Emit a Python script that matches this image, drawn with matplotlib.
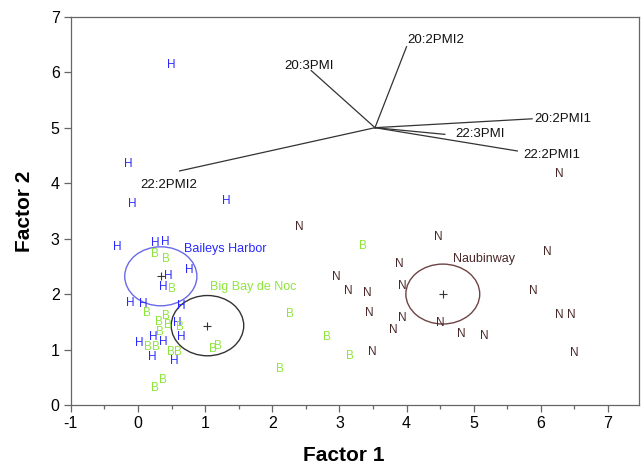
import matplotlib.pyplot as plt
from matplotlib.patches import Ellipse
from matplotlib.ticker import MultipleLocator

plt.rcParams['font.family'] = ['Liberation Sans', 'DejaVu Sans']
plt.rcParams['axes.unicode_minus'] = False

# site scores (letter = site)
h_x = [-0.14, 0.50, -0.09, 1.31, -0.31, 0.25, 0.40, 0.77, 0.45, 0.38, -0.12, 0.085,
       0.64, 0.58, 0.23, 0.37, 0.65, 0.025, 0.21, 0.545]
h_y = [4.34, 6.13, 3.62, 3.68, 2.84, 2.92, 2.93, 2.43, 2.33, 2.13, 1.83, 1.82,
       1.79, 1.48, 1.22, 1.14, 1.23, 1.11, 0.87, 0.80]
b_x = [0.25, 0.42, 0.51, 0.13, 0.41, 0.31, 0.45, 0.62, 0.33, 0.15, 0.27, 0.49, 0.60,
       1.11, 1.19, 0.26, 0.37, 3.35, 2.27, 2.81, 3.16, 2.12]
b_y = [2.73, 2.64, 2.10, 1.66, 1.61, 1.50, 1.44, 1.41, 1.31, 1.05, 1.05, 0.96, 0.96,
       1.00, 1.06, 0.31, 0.45, 2.87, 1.64, 1.23, 0.89, 0.65]
n_x = [2.40, 2.96, 3.135, 3.42, 3.45, 3.80, 3.49, 4.47, 3.89, 3.93, 3.93, 4.51,
       4.82, 5.16, 6.09, 5.89, 6.27, 6.45, 6.50, 6.27]
n_y = [3.21, 2.31, 2.06, 2.02, 1.66, 1.36, 0.95, 3.02, 2.54, 2.15, 1.56, 1.47,
       1.28, 1.24, 2.75, 2.06, 1.62, 1.62, 0.93, 4.16]

# group centroids and ellipse sizes
grp_names = ['Baileys Harbor', 'Big Bay de Noc', 'Naubinway']
grp_cx = [0.34, 1.035, 4.54]
grp_cy = [2.32, 1.43, 2.00]
grp_w = [1.075, 1.08, 1.10]
grp_h = [1.064, 1.087, 1.08]
grp_lx = [0.69, 1.08, 4.69]
grp_ly = [2.81, 2.13, 2.63]

# variable vectors
origin = (3.53, 5.0)
vec_names = ['20:3PMI', '20:2PMI2', '20:2PMI1', '22:3PMI', '22:2PMI1', '22:2PMI2']
vec_x = [2.58, 4.00, 5.87, 4.57, 5.65, 0.62]
vec_y = [6.03, 6.46, 5.16, 4.88, 4.58, 4.22]
lab_x = [2.18, 4.01, 5.91, 4.72, 5.74, 0.035]
lab_y = [6.11, 6.58, 5.16, 4.89, 4.51, 3.97]

c_h = '#2a2aff'
c_b = '#8ee63c'
c_n = '#4a2828'
ell_col = ['#6a6ae8', '#333333', '#6e4444']
lab_col = [c_h, c_b, c_n]

fig = plt.figure(figsize=(6.44, 4.66), dpi=100)
ax = fig.add_axes([0.110, 0.131, 0.882, 0.833])

for xs, ys, letter, col in [(h_x, h_y, 'H', c_h), (b_x, b_y, 'B', c_b), (n_x, n_y, 'N', c_n)]:
    for x, y in zip(xs, ys):
        ax.text(x, y, letter, color=col, fontsize=8.5, ha='center', va='center')

for i in range(3):
    ax.add_patch(Ellipse((grp_cx[i], grp_cy[i]), grp_w[i], grp_h[i], fill=False,
                         edgecolor=ell_col[i], lw=1.0))
    ax.plot(grp_cx[i], grp_cy[i], marker='+', color='#333333', ms=6, mew=0.8)
    ax.text(grp_lx[i], grp_ly[i], grp_names[i], color=lab_col[i], fontsize=9,
            ha='left', va='center')

for name, x, y, lx, ly in zip(vec_names, vec_x, vec_y, lab_x, lab_y):
    ax.plot([origin[0], x], [origin[1], y], color='#333333', lw=0.9)
    ax.text(lx, ly, name, fontsize=9.5, color='#111111', ha='left', va='center')

ax.set_xlim(-1, 7.46)
ax.set_ylim(0, 7)
ax.xaxis.set_major_locator(MultipleLocator(1))
ax.xaxis.set_minor_locator(MultipleLocator(0.5))
ax.yaxis.set_major_locator(MultipleLocator(1))
for s in ax.spines.values():
    s.set_color('#666666')
    s.set_linewidth(0.9)
ax.tick_params(which='major', length=5, width=0.9, color='#666666', labelsize=11.5, pad=3)
ax.tick_params(which='minor', length=3, width=0.9, color='#666666')

ax.set_xlabel('Factor 1', fontsize=15, fontweight='bold')
ax.set_ylabel('Factor 2', fontsize=15, fontweight='bold')
ax.xaxis.set_label_coords(0.48, -0.105)
ax.yaxis.set_label_coords(-0.064, 0.5)

fig.savefig('out.png', dpi=100)
